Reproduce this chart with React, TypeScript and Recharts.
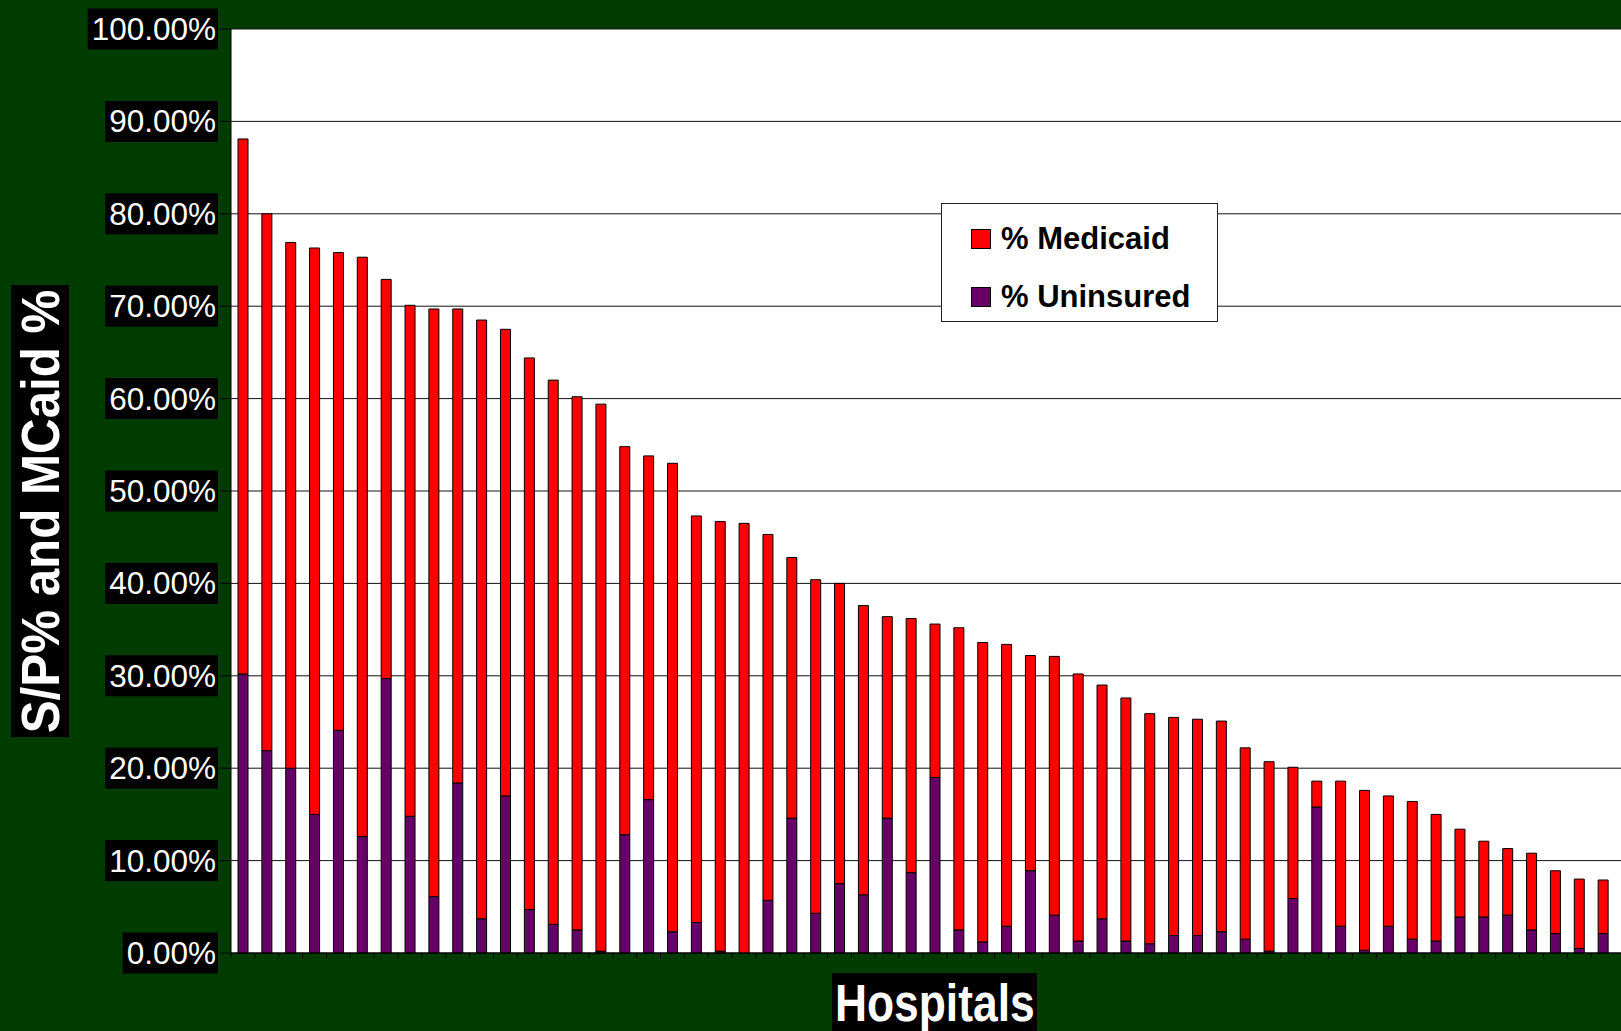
import { BarChart, Bar, XAxis, YAxis, CartesianGrid } from 'recharts';

// ---------------------------------------------------------------------------
// Data (percent of patients, per hospital, sorted by total)
// ---------------------------------------------------------------------------
const HOSPITALS = [
  '1', '2', '3', '4', '5', '6', '7', '8', '9', '10',
  '11', '12', '13', '14', '15', '16', '17', '18', '19', '20',
  '21', '22', '23', '24', '25', '26', '27', '28', '29', '30',
  '31', '32', '33', '34', '35', '36', '37', '38', '39', '40',
  '41', '42', '43', '44', '45', '46', '47', '48', '49', '50',
  '51', '52', '53', '54', '55', '56', '57', '58',
];

const UNINSURED = [
  30.2, 21.9, 20.0, 15.0, 24.1, 12.6, 29.7, 14.8, 6.1, 18.4,
  3.7, 17.0, 4.7, 3.1, 2.5, 0.2, 12.8, 16.6, 2.3, 3.3,
  0.2, 0.0, 5.7, 14.6, 4.3, 7.5, 6.3, 14.6, 8.7, 19.0,
  2.5, 1.2, 2.9, 8.9, 4.1, 1.3, 3.7, 1.3, 1.0, 1.9,
  1.9, 2.3, 1.5, 0.2, 5.9, 15.8, 2.9, 0.3, 2.9, 1.5,
  1.3, 3.9, 3.9, 4.1, 2.5, 2.1, 0.5, 2.1,
];

const MEDICAID = [
  57.9, 58.1, 56.9, 61.3, 51.7, 62.7, 43.2, 55.3, 63.6, 51.3,
  64.8, 50.5, 59.7, 58.9, 57.7, 59.2, 42.0, 37.2, 50.7, 44.0,
  46.5, 46.5, 39.6, 28.2, 36.1, 32.5, 31.3, 21.8, 27.5, 16.6,
  32.7, 32.4, 30.5, 23.3, 28.0, 28.9, 25.3, 26.3, 24.9, 23.6,
  23.4, 22.8, 20.7, 20.5, 14.2, 2.8, 15.7, 17.3, 14.1, 14.9,
  13.7, 9.5, 8.2, 7.2, 8.3, 6.8, 7.5, 5.8,
];

const Y_TICKS = [0, 10, 20, 30, 40, 50, 60, 70, 80, 90, 100];

// ---------------------------------------------------------------------------
// Theme
// ---------------------------------------------------------------------------
const BG = '#003c00';
const RED = '#ff0000';
const PURPLE = '#660066';
const FONT = '"Liberation Sans", Arial, sans-serif';
const TICK_FONT = 31.5;

const SERIES = [
  { key: 'medicaid', label: '% Medicaid', color: RED },
  { key: 'uninsured', label: '% Uninsured', color: PURPLE },
];

// ---------------------------------------------------------------------------
// Y tick: white text on a black box
// ---------------------------------------------------------------------------
function YTick({ x, y, payload }: any) {
  const label = `${Number(payload.value).toFixed(2)}%`;
  const digits = label.replace(/[^0-9]/g, '').length;
  const w = (digits * 0.556 + 0.278 + 0.889) * TICK_FONT;
  return (
    <g>
      <rect x={x - w - 4} y={y - 20.5} width={w + 6} height={41} fill="#000" />
      <text
        x={x}
        y={y + 11}
        textAnchor="end"
        fill="#fff"
        fontFamily={FONT}
        fontSize={TICK_FONT}
      >
        {label}
      </text>
    </g>
  );
}

// X tick: small marks on the category boundaries, no text
function XTick({ x, y }: any) {
  const half = 11.93;
  return <line x1={x - half} x2={x - half} y1={y - 8} y2={y - 3} stroke="#000" />;
}

function LegendBox() {
  return (
    <div
      style={{
        position: 'absolute',
        left: 941,
        top: 203,
        width: 275,
        height: 117,
        background: '#fff',
        border: '1px solid #222',
        fontFamily: FONT,
        fontWeight: 700,
        fontSize: 31,
        color: '#000',
      }}
    >
      {SERIES.map((s, i) => (
        <div
          key={s.key}
          style={{ position: 'absolute', left: 29, top: 17 + i * 58, display: 'flex', alignItems: 'center' }}
        >
          <span
            style={{
              display: 'inline-block',
              width: 18,
              height: 18,
              background: s.color,
              border: '1px solid #000',
              marginRight: 10,
            }}
          />
          <span style={{ lineHeight: '36px' }}>{s.label}</span>
        </div>
      ))}
    </div>
  );
}

const titleBox = {
  position: 'absolute' as const,
  background: '#000',
  color: '#fff',
  fontFamily: FONT,
  fontWeight: 700,
  display: 'flex',
  alignItems: 'center',
  justifyContent: 'center',
  whiteSpace: 'nowrap' as const,
};

export default function App() {
  const data = HOSPITALS.map((h, i) => ({
    name: h,
    uninsured: UNINSURED[i],
    medicaid: MEDICAID[i],
  }));

  return (
    <div
      style={{
        position: 'absolute',
        left: 0,
        top: 0,
        width: 1621,
        height: 1031,
        background: BG,
        overflow: 'hidden',
      }}
    >
      <BarChart
        width={1640}
        height={1031}
        data={data}
        margin={{ top: 29, right: 0, left: 0, bottom: 0 }}
        barSize={10}
      >
        <CartesianGrid vertical={false} stroke="#111" fill="#fff" fillOpacity={1} />
        <XAxis
          dataKey="name"
          height={78}
          padding={{ left: 0, right: 25 }}
          axisLine={{ stroke: '#000' }}
          tickLine={false}
          tick={<XTick />}
          interval={0}
        />
        <YAxis
          width={231}
          domain={[0, 100]}
          ticks={Y_TICKS}
          interval={0}
          tickSize={11}
          tickMargin={4}
          axisLine={{ stroke: '#000' }}
          tickLine={{ stroke: '#000' }}
          tick={<YTick />}
        />
        <Bar
          dataKey="uninsured"
          name="% Uninsured"
          stackId="a"
          fill={PURPLE}
          stroke="#000"
          strokeWidth={1}
          isAnimationActive={false}
        />
        <Bar
          dataKey="medicaid"
          name="% Medicaid"
          stackId="a"
          fill={RED}
          stroke="#000"
          strokeWidth={1}
          isAnimationActive={false}
        />
      </BarChart>

      <LegendBox />

      {/* Y axis title */}
      <div
        style={{
          ...titleBox,
          left: 40,
          top: 511,
          width: 452,
          height: 58,
          fontSize: 53,
          transform: 'translate(-50%, -50%) rotate(-90deg)',
        }}
      >
        <span style={{ display: 'inline-block', transform: 'scaleX(0.93)' }}>S/P% and MCaid %</span>
      </div>

      {/* X axis title */}
      <div
        style={{
          ...titleBox,
          left: 832,
          top: 973,
          width: 205,
          height: 60,
          fontSize: 51,
        }}
      >
        <span style={{ display: 'inline-block', transform: 'scaleX(0.87)' }}>Hospitals</span>
      </div>
    </div>
  );
}
